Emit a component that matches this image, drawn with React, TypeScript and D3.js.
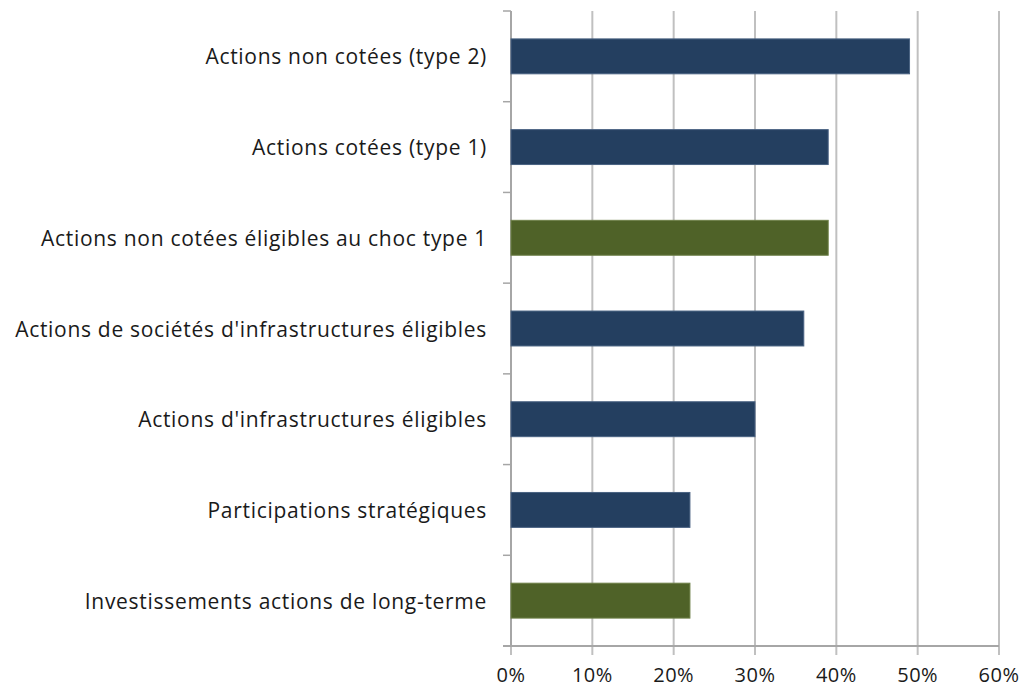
import React from "react";
import * as d3 from "d3";

const categories = [
  "Actions non cotées (type 2)",
  "Actions cotées (type 1)",
  "Actions non cotées éligibles au choc type 1",
  "Actions de sociétés d'infrastructures éligibles",
  "Actions d'infrastructures éligibles",
  "Participations stratégiques",
  "Investissements actions de long-terme",
];
const values = [0.49, 0.39, 0.39, 0.36, 0.30, 0.22, 0.22];
const highlighted = [false, false, true, false, false, false, true];
const xTicks = [0, 0.1, 0.2, 0.3, 0.4, 0.5, 0.6];

const W = 1026;
const H = 688;
const left = 511;
const right = 999;
const top = 11;
const bottom = 646;

export default function App() {
  const x = d3.scaleLinear().domain([0, 0.6]).range([left, right]);
  const y = d3.scaleBand<string>().domain(categories).range([top, bottom]).paddingInner(0.615).paddingOuter(0.3075);
  const yEdges = d3.range(categories.length + 1).map((i) => top + (i * (bottom - top)) / categories.length);
  const fmt = d3.format(".0%");
  return (
    <svg width={W} height={H} style={{ position: "absolute", left: 0, top: 0, background: "#fff" }}>
      {xTicks.map((t) => (
        <line key={"g" + t} x1={x(t)} x2={x(t)} y1={top} y2={bottom + 9} stroke="#C0C0C0" strokeWidth={2} />
      ))}
      <line x1={left} x2={left} y1={top} y2={bottom} stroke="#A6A6A6" strokeWidth={2} />
      <line x1={left - 8} x2={right} y1={bottom} y2={bottom} stroke="#A6A6A6" strokeWidth={2} />
      {yEdges.map((e, i) => (
        <line key={"t" + i} x1={left - 8} x2={left} y1={e} y2={e} stroke="#A6A6A6" strokeWidth={1.5} />
      ))}
      {categories.map((c, i) => (
        <rect
          key={c}
          x={x(0)}
          y={y(c)}
          width={x(values[i]) - x(0)}
          height={y.bandwidth()}
          fill={highlighted[i] ? "#4F6228" : "#243F60"}
          stroke={highlighted[i] ? "#6E8048" : "#4A6383"}
          strokeWidth={1}
        />
      ))}
      {categories.map((c) => (
        <text
          key={"l" + c}
          x={487}
          y={(y(c) as number) + y.bandwidth() / 2}
          textAnchor="end"
          dominantBaseline="central"
          fontFamily="'Open Sans', sans-serif"
          fontSize={21}
          letterSpacing={0.7}
          fill="#1a1a1a"
        >
          {c}
        </text>
      ))}
      {xTicks.map((t) => (
        <text
          key={"x" + t}
          x={x(t)}
          y={682}
          textAnchor="middle"
          fontFamily="'Open Sans', sans-serif"
          fontSize={20}
          letterSpacing={0.5}
          fill="#1a1a1a"
        >
          {fmt(t)}
        </text>
      ))}
    </svg>
  );
}
